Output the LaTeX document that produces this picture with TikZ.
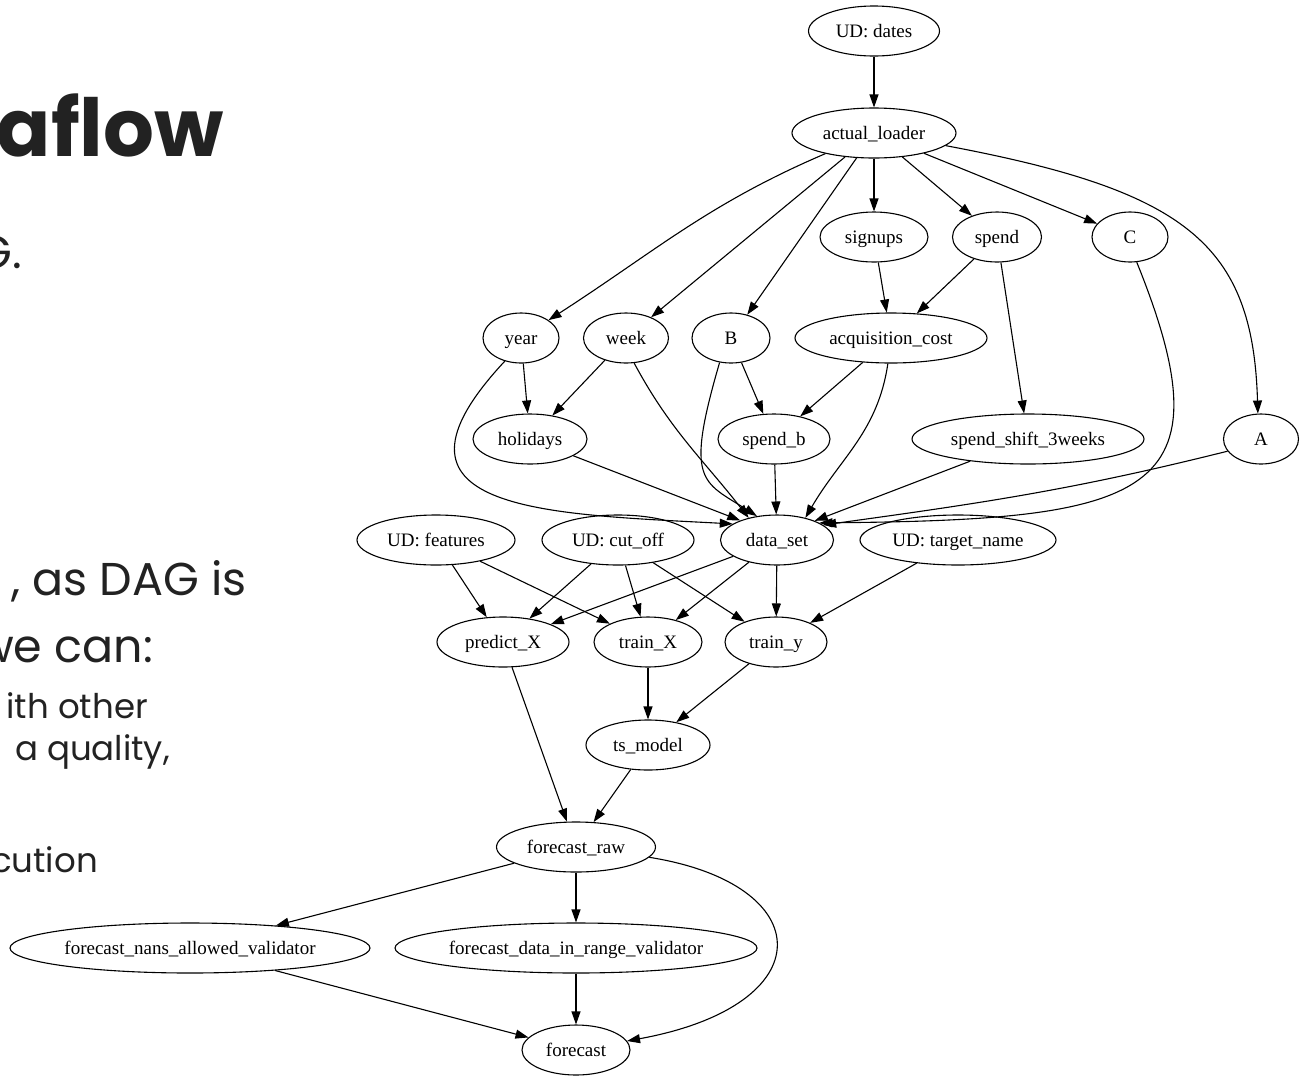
\documentclass[tikz,border=0pt]{standalone}
\usepackage{fontspec}
\newfontfamily\tm{Liberation Serif}
\newfontfamily\pop{Poppins}
\usetikzlibrary{arrows.meta,shapes.geometric}
\definecolor{slidetxt}{HTML}{222222}
\tikzset{
  nd/.style={draw, ellipse, line width=1.1pt, inner sep=0pt, minimum height=50pt,
    text height=13.5pt, text depth=0.5pt,
    font=\tm\fontsize{19}{22}\selectfont},
  edge/.style={line width=1.1pt, -{Triangle[length=13pt,width=9pt]}},
  slide/.style={anchor=base east, inner sep=0pt, text=slidetxt},
}
\begin{document}
\begin{tikzpicture}[x=1pt,y=-1pt]
\fill[white] (0,0) rectangle (1301,1080);
\useasboundingbox (0,0) rectangle (1301,1080);
\begin{scope}
\clip (0,0) rectangle (1301,1080);
% slide text fragments
\node[slide, font=\pop\bfseries\fontsize{80}{90}\selectfont] (t1) at (224,156) {aflow};
\node[slide, font=\pop\fontsize{46}{52}\selectfont] (t2) at (22,268) {G.};
\node[slide, font=\pop\fontsize{46}{52}\selectfont] (t3) at (247,595) {, as DAG is};
\node[slide, font=\pop\fontsize{46}{52}\selectfont] (t4) at (153,662) {we can:};
\node[slide, font=\pop\fontsize{34}{40}\selectfont] (t5) at (148,718) {ith other};
\node[slide, font=\pop\fontsize{34}{40}\selectfont] (t6) at (170,760) {a quality,};
\node[slide, font=\pop\fontsize{34}{40}\selectfont] (t7) at (98,872) {cution};
\end{scope}
% nodes
\node[nd, minimum width=131pt] (dates) at (874,31) {UD: dates};
\node[nd, minimum width=164pt] (al) at (874,133) {actual\_loader};
\node[nd, minimum width=108pt] (signups) at (874,237) {signups};
\node[nd, minimum width=89pt] (spend) at (997,237) {spend};
\node[nd, minimum width=76pt] (C) at (1130,237) {C};
\node[nd, minimum width=76pt] (year) at (521,338) {year};
\node[nd, minimum width=85pt] (week) at (626,338) {week};
\node[nd, minimum width=78pt] (B) at (731,338) {B};
\node[nd, minimum width=192pt] (acq) at (891,338) {acquisition\_cost};
\node[nd, minimum width=114pt] (hol) at (530,439) {holidays};
\node[nd, minimum width=112pt] (spendb) at (774,439) {spend\_b};
\node[nd, minimum width=232pt] (ss3) at (1028,439) {spend\_shift\_3weeks};
\node[nd, minimum width=75pt] (A) at (1261,439) {A};
\node[nd, minimum width=158pt] (feat) at (436,540) {UD: features};
\node[nd, minimum width=152pt] (cut) at (618,540) {UD: cut\_off};
\node[nd, minimum width=113pt] (ds) at (777,540) {data\_set};
\node[nd, minimum width=196pt] (target) at (958,540) {UD: target\_name};
\node[nd, minimum width=132pt] (predX) at (503,642) {predict\_X};
\node[nd, minimum width=108pt] (trainX) at (648,642) {train\_X};
\node[nd, minimum width=102pt] (trainy) at (776,642) {train\_y};
\node[nd, minimum width=124pt] (ts) at (648,745) {ts\_model};
\node[nd, minimum width=159pt] (fr) at (576,847) {forecast\_raw};
\node[nd, minimum width=360pt] (nans) at (190,948) {forecast\_nans\_allowed\_validator};
\node[nd, minimum width=362pt] (range) at (576,948) {forecast\_data\_in\_range\_validator};
\node[nd, minimum width=108pt] (fc) at (576,1050) {forecast};
% edges
\draw[edge] (dates) -- (al);
\draw[edge] (al.203) .. controls +(-117,50) and +(107,-69) .. (year.33);
\draw[edge] (al) -- (week);
\draw[edge] (al) -- (B);
\draw[edge] (al) -- (signups);
\draw[edge] (al) -- (spend);
\draw[edge] (al) -- (C);
\draw[edge] (al.-10) .. controls +(240,45) and +(-5,-170) .. (A.97);
\draw[edge] (signups) -- (acq);
\draw[edge] (spend) -- (acq);
\draw[edge] (spend) -- (ss3);
\draw[edge] (acq) -- (spendb);
\draw[edge] (B) -- (spendb);
\draw[edge] (year) -- (hol);
\draw[edge] (week) -- (hol);
\draw[edge] (hol) -- (ds.152);
\draw[edge] (spendb) -- (ds);
\draw[edge] (ss3) -- (ds.27);
\draw[edge] (year.235) .. controls +(-140,150) and +(-190,-10) .. (ds.160);
\draw[edge] (week.-72) .. controls +(36,67) and +(-47,-60) .. (ds.142);
\draw[edge] (B.-115) .. controls +(-35,120) and +(-55,-35) .. (ds.130);
\draw[edge] (acq.-97) .. controls +(-10,68) and +(35,-60) .. (ds.38);
\draw[edge] (C.-75) .. controls +(95,235) and +(330,-3) .. (ds.22);
\draw[edge] (A.200) .. controls +(-156,39) and +(159,-22) .. (ds.18);
\draw[edge] (feat) -- (predX);
\draw[edge] (feat) -- (trainX);
\draw[edge] (cut) -- (predX);
\draw[edge] (cut) -- (trainX);
\draw[edge] (cut) -- (trainy);
\draw[edge] (ds) -- (predX);
\draw[edge] (ds) -- (trainX);
\draw[edge] (ds) -- (trainy);
\draw[edge] (target) -- (trainy);
\draw[edge] (predX) -- (fr);
\draw[edge] (trainX) -- (ts);
\draw[edge] (trainy) -- (ts);
\draw[edge] (ts) -- (fr);
\draw[edge] (fr) -- (nans);
\draw[edge] (fr) -- (range);
\draw[edge] (fr.-8) .. controls +(170,27) and +(197,-36) .. (fc.10);
\draw[edge] (nans) -- (fc);
\draw[edge] (range) -- (fc);
\end{tikzpicture}
\end{document}
